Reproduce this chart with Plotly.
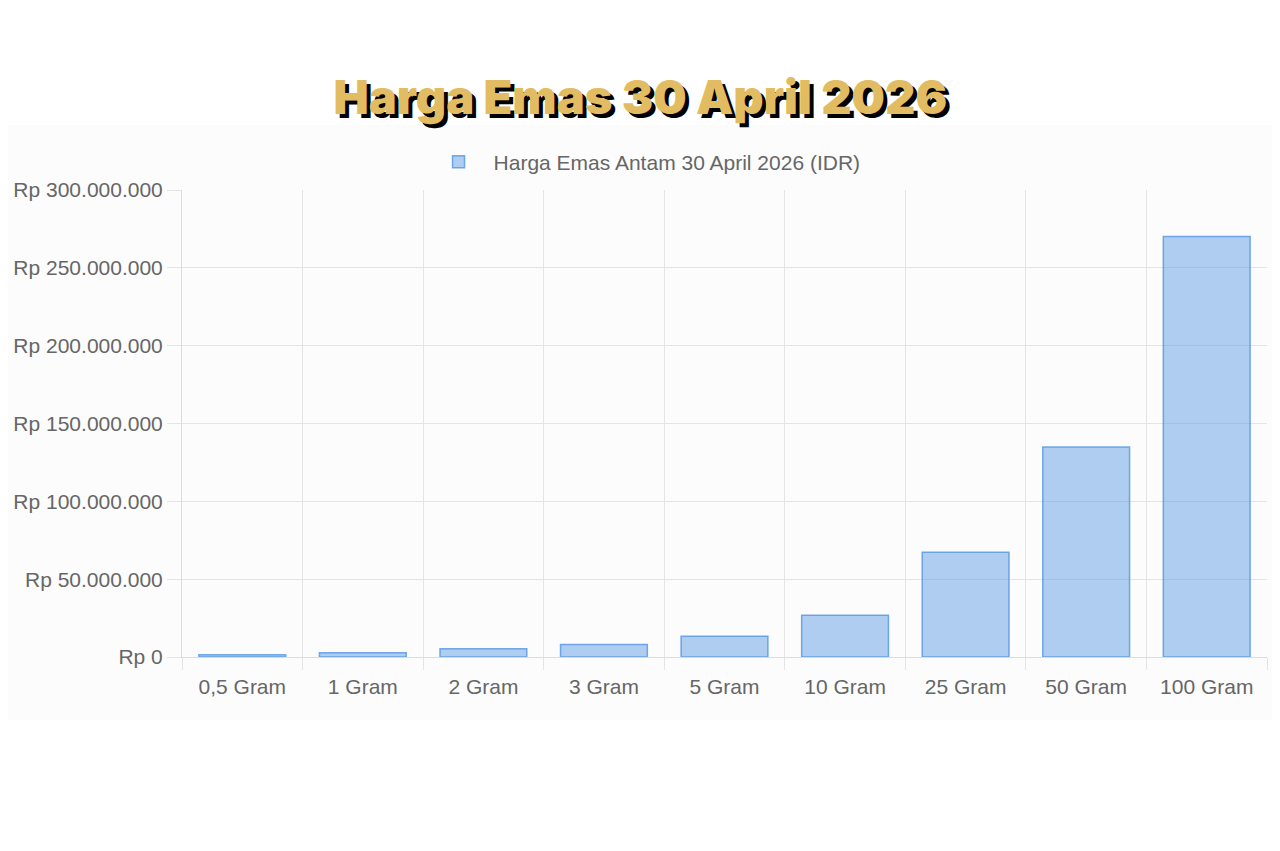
import plotly.graph_objects as go

# Harga Emas Antam per ukuran (perkiraan dari gambar)
ukuran = ["0,5 Gram", "1 Gram", "2 Gram", "3 Gram", "5 Gram",
          "10 Gram", "25 Gram", "50 Gram", "100 Gram"]
harga = [1_400_000, 2_700_000, 5_300_000, 7_950_000, 13_300_000,
         26_800_000, 67_300_000, 134_900_000, 270_200_000]

tick_vals = [0, 50_000_000, 100_000_000, 150_000_000, 200_000_000, 250_000_000, 300_000_000]
tick_text = ["Rp 0", "Rp 50.000.000", "Rp 100.000.000", "Rp 150.000.000",
             "Rp 200.000.000", "Rp 250.000.000", "Rp 300.000.000"]

FONT = "Liberation Sans, Arial, sans-serif"
GRID = "#e4e4e4"

fig = go.Figure()
fig.add_trace(go.Bar(
    x=ukuran, y=harga,
    name="Harga Emas Antam 30 April 2026 (IDR)",
    marker=dict(color="rgba(74,144,226,0.43)",
                line=dict(color="rgba(74,144,226,0.75)", width=1.5)),
))

# the page puts the figure 8px in from the top-left, so margins are cut by 8
fig.update_layout(
    width=1280, height=851,
    margin=dict(l=174, r=21, t=182, b=202),
    paper_bgcolor="white",
    plot_bgcolor="rgba(0,0,0,0)",
    bargap=0.28,
    showlegend=True,
    font=dict(family=FONT, size=21, color="#666666"),
    title=dict(
        text="Harga Emas 30 April 2026",
        x=0.494, xref="container", xanchor="center",
        y=0.895, yref="container", yanchor="middle",
        font=dict(family="Inter, Lato, sans-serif", size=47, weight=900,
                  color="#e2bc62", shadow="4px 4px 0px #000000"),
    ),
    legend=dict(
        orientation="h", x=0.630, xanchor="right",
        y=1.06, yanchor="middle",
        font=dict(family=FONT, size=21, color="#666666"),
        itemwidth=60, bgcolor="rgba(0,0,0,0)",
    ),
    shapes=[dict(
        type="rect", xref="paper", yref="paper", layer="below",
        x0=-0.17, x1=1.02, y0=-0.135, y1=1.139,
        fillcolor="#fcfcfc", line=dict(width=0),
    )],
)

fig.update_xaxes(
    type="category",
    tickson="boundaries",
    showgrid=True, gridcolor=GRID, gridwidth=1,
    ticks="outside", ticklen=12, tickcolor=GRID,
    showline=True, linecolor="#dcdcdc", linewidth=1,
    ticklabelstandoff=11,
    automargin=False,
    tickfont=dict(family=FONT, size=21, color="#666666"),
)
fig.update_yaxes(
    range=[0, 300_000_000],
    tickvals=tick_vals, ticktext=tick_text,
    showgrid=True, gridcolor=GRID, gridwidth=1,
    zeroline=False,
    ticks="outside", ticklen=14, tickcolor=GRID,
    showline=True, linecolor="#dcdcdc", linewidth=1,
    ticklabelstandoff=0,
    automargin=False,
    tickfont=dict(family=FONT, size=21, color="#666666"),
)

fig.write_html("out.html")
